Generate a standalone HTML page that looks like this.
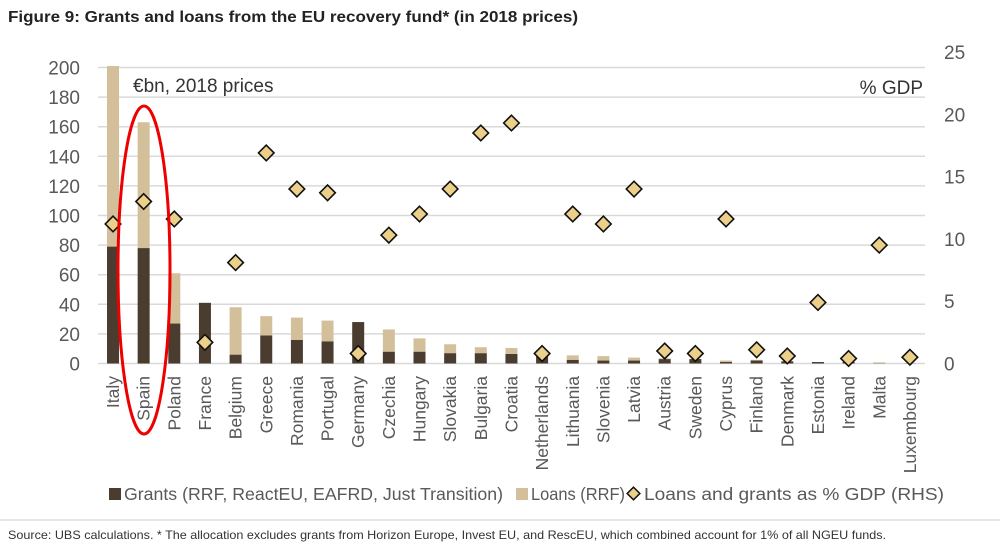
<!DOCTYPE html>
<html><head><meta charset="utf-8"><style>
body{margin:0;background:#fff;width:1000px;height:551px;overflow:hidden;font-family:"Liberation Sans",sans-serif}
</style></head><body>
<svg width="1000" height="551" xmlns="http://www.w3.org/2000/svg">
<text x="8" y="22" font-size="15.5" font-weight="bold" fill="#222" textLength="570" lengthAdjust="spacingAndGlyphs">Figure 9: Grants and loans from the EU recovery fund* (in 2018 prices)</text>
<line x1="0" y1="520" x2="1000" y2="520" stroke="#ddd" stroke-width="1.5"/>
<text x="8" y="539" font-size="12" fill="#333" textLength="878" lengthAdjust="spacingAndGlyphs">Source: UBS calculations. * The allocation excludes grants from Horizon Europe, Invest EU, and RescEU, which combined account for 1% of all NGEU funds.</text>
<g id="grid"></g><g id="bars"></g><g id="marks"></g><g id="labels"></g>
<text x="133" y="92" font-size="19" fill="#333">€bn, 2018 prices</text>
<text x="923" y="94" font-size="19" fill="#333" text-anchor="end">% GDP</text>
<ellipse cx="144" cy="270" rx="26" ry="164" fill="none" stroke="#e00" stroke-width="3"/>
<g font-size="17.5" fill="#595959">
<rect x="109" y="488" width="12" height="12" fill="#4b3c30"/>
<text x="124" y="500" textLength="379" lengthAdjust="spacingAndGlyphs">Grants (RRF, ReactEU, EAFRD, Just Transition)</text>
<rect x="516" y="488" width="12" height="12" fill="#d3c09a"/>
<text x="531" y="500" textLength="94" lengthAdjust="spacingAndGlyphs">Loans (RRF)</text>
<rect x="629" y="489" width="9" height="9" transform="rotate(45 633.5 493.5)" fill="#ecd08a" stroke="#111" stroke-width="1.5"/>
<text x="644" y="500" textLength="300" lengthAdjust="spacingAndGlyphs">Loans and grants as % GDP (RHS)</text>
</g>
</svg>
<script>
const countries=["Italy","Spain","Poland","France","Belgium","Greece","Romania","Portugal","Germany","Czechia","Hungary","Slovakia","Bulgaria","Croatia","Netherlands","Lithuania","Slovenia","Latvia","Austria","Sweden","Cyprus","Finland","Denmark","Estonia","Ireland","Malta","Luxembourg"];
const grants=[79,78,27,41,6,19,16,15,28,8,8,7,7,6.5,5.5,2.5,2,2,3,3,1,2,1.5,1,1,0.2,0.1];
const loans=[122,85,34,0,32,13,15,14,0,15,9,6,4,4,0,3,3,2,0.5,0,1,0.5,0,0,0,0.6,0];
const gdpPct=[11.2,13.0,11.6,1.7,8.1,16.9,14.0,13.7,0.8,10.3,12.0,14.0,18.5,19.3,0.8,12.0,11.2,14.0,1.0,0.8,11.6,1.1,0.6,4.9,0.4,9.5,0.5];
const leftTicks=[0,20,40,60,80,100,120,140,160,180,200];
const rightTicks=[0,5,10,15,20,25];
const NS="http://www.w3.org/2000/svg";
const y0=363.5;
const yL=v=>y0-v*1.48;
const yR=v=>y0-v*12.46;
const xC=i=>113+i*30.65;
function mk(t,a,p){const e=document.createElementNS(NS,t);for(const k in a)e.setAttribute(k,a[k]);document.getElementById(p).appendChild(e);return e;}
leftTicks.forEach(t=>{
 const l=mk('line',{x1:98,x2:925,y1:yL(t),y2:yL(t),stroke:'#d9d9d9','stroke-width':1.5},'grid');
 
 
 const tx=mk('text',{x:80,y:yL(t)+7,'font-size':19,fill:'#595959','text-anchor':'end'},'labels');
 tx.textContent=t;
 
 
});
rightTicks.forEach(t=>{
 const tx=mk('text',{x:944,y:yR(t)+7,'font-size':19,fill:'#595959'},'labels');
 tx.textContent=t;
 
 
});
countries.forEach((c,i)=>{
 const x=xC(i)-6;
 const g=mk('rect',{x:x,y:yL(grants[i]),width:12,height:y0-yL(grants[i]),fill:'#4b3c30'},'bars');
 
 
 const lo=mk('rect',{x:x,y:yL(grants[i]+loans[i]),width:12,height:loans[i]*1.48,fill:'#d3c09a'},'bars');
 
 
 const cy=yR(gdpPct[i]);
 const d=mk('rect',{x:xC(i)-5.5,y:cy-5.5,width:11,height:11,transform:`rotate(45 ${xC(i)} ${cy})`,fill:'#ecd08a',stroke:'#111','stroke-width':1.6},'marks');
 
 
 const tx=mk('text',{x:0,y:0,'font-size':17.5,fill:'#595959','text-anchor':'end',transform:`translate(${xC(i)+6} 376) rotate(-90)`},'labels');
 tx.textContent=c;
 
 
});
</script>
</body></html>
